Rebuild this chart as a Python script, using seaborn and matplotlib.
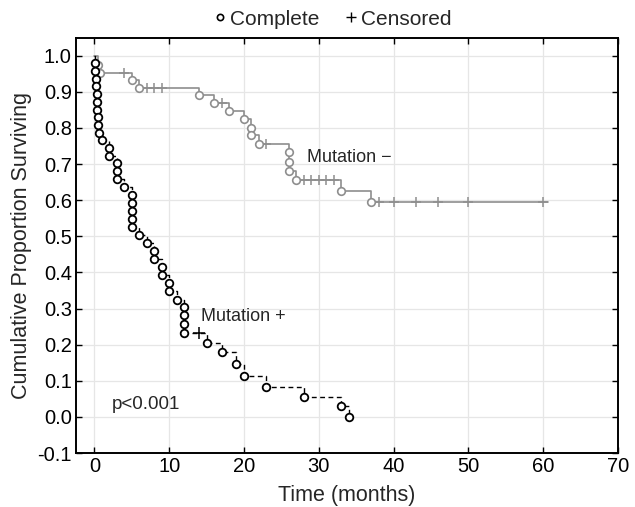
import matplotlib
matplotlib.use("Agg")
import matplotlib.pyplot as plt
from matplotlib.lines import Line2D
from matplotlib.ticker import FormatStrFormatter, MultipleLocator
import seaborn as sns
import pandas as pd

# ── Data ────────────────────────────────────────────────────────────────────
# Mutation + : complete (event) observations
pos_time = [0.1, 0.15, 0.2, 0.25, 0.3, 0.35, 0.4, 0.5, 0.55, 0.6,
            1.0, 2.0, 2.0, 3.0, 3.0, 3.0, 4.0,
            5.0, 5.0, 5.0, 5.0, 5.0, 6.0, 7.0, 8.0, 8.0, 9.0, 9.0,
            10.0, 10.0, 11.0, 12.0, 12.0, 12.0, 12.0,
            15.0, 17.0, 19.0, 20.0, 23.0, 28.0, 33.0, 34.0]
pos_surv = [0.979, 0.957, 0.936, 0.915, 0.894, 0.872, 0.851, 0.830, 0.809, 0.787,
            0.766, 0.745, 0.723, 0.702, 0.681, 0.660, 0.638,
            0.614, 0.592, 0.570, 0.548, 0.526, 0.505, 0.482, 0.459, 0.438, 0.415, 0.394,
            0.371, 0.350, 0.325, 0.304, 0.281, 0.256, 0.232,
            0.204, 0.179, 0.146, 0.114, 0.083, 0.056, 0.030, 0.0]
pos_cens_time = [14.0]
pos_cens_surv = [0.232]

# Mutation - : complete observations
neg_time = [0.5, 0.8, 5.0, 6.0, 14.0, 16.0, 18.0, 20.0, 21.0, 21.0, 22.0,
            26.0, 26.0, 26.0, 27.0, 33.0, 37.0]
neg_surv = [0.975, 0.953, 0.933, 0.912, 0.890, 0.870, 0.848, 0.825, 0.801, 0.780, 0.757,
            0.733, 0.705, 0.680, 0.656, 0.625, 0.594]
neg_cens_time = [4.0, 7.0, 8.0, 9.0, 17.0, 23.0, 28.0, 29.0, 30.0, 31.0, 32.0,
                 38.0, 40.0, 43.0, 46.0, 50.0, 60.0]
neg_cens_surv = [0.953, 0.912, 0.912, 0.912, 0.870, 0.757, 0.656, 0.656, 0.656, 0.656, 0.656,
                 0.594, 0.594, 0.594, 0.594, 0.594, 0.594]
neg_last_time = 60.6

X_TICKS = list(range(0, 71, 10))
GRAY = "#8e8e8e"

# step-curve tables
pos_curve = pd.DataFrame({"t": [0.0] + pos_time, "s": [1.0] + pos_surv})
neg_curve = pd.DataFrame({"t": [0.0] + neg_time + [neg_last_time],
                          "s": [1.0] + neg_surv + [neg_surv[-1]]})

sns.set_style("ticks")
plt.rcParams["font.family"] = ["Liberation Sans", "DejaVu Sans"]
plt.rcParams["axes.unicode_minus"] = False

fig = plt.figure(figsize=(6.35, 5.07), dpi=100)
ax = fig.add_axes([0.1197, 0.1065, 0.8535, 0.8191])

# Mutation - (gray, solid)
sns.lineplot(data=neg_curve, x="t", y="s", estimator=None, sort=False,
             drawstyle="steps-post", color=GRAY, linewidth=1.2, ax=ax, zorder=2)
sns.scatterplot(x=neg_cens_time, y=neg_cens_surv, marker="+", s=55, color=GRAY,
                linewidth=1.1, ax=ax, zorder=3)
sns.scatterplot(x=neg_time, y=neg_surv, marker="o", s=30, color="white",
                edgecolor=GRAY, linewidth=1.2, ax=ax, zorder=4)

# Mutation + (black, dashed)
sns.lineplot(data=pos_curve, x="t", y="s", estimator=None, sort=False,
             drawstyle="steps-post", color="black", linewidth=1.0,
             linestyle=(0, (3.5, 2.5)), ax=ax, zorder=5)
sns.scatterplot(x=pos_cens_time, y=pos_cens_surv, marker="+", s=70, color="black",
                linewidth=1.1, ax=ax, zorder=6)
sns.scatterplot(x=pos_time, y=pos_surv, marker="o", s=30, color="white",
                edgecolor="black", linewidth=1.3, ax=ax, zorder=7)

ax.text(28.4, 0.717, "Mutation \u2212", fontsize=13, va="center", ha="left")
ax.text(14.2, 0.279, "Mutation +", fontsize=13, va="center", ha="left")
ax.text(2.4, 0.033, "p<0.001", fontsize=13.5, va="center", ha="left")

ax.set_xlim(-2.45, 70)
ax.set_ylim(-0.1, 1.05)
ax.set_xticks(X_TICKS)
ax.yaxis.set_major_locator(MultipleLocator(0.1))
ax.yaxis.set_major_formatter(FormatStrFormatter("%.1f"))
ax.grid(True, color="#e6e6e6", linewidth=0.9)
ax.set_axisbelow(True)
for sp in ax.spines.values():
    sp.set_color("black")
    sp.set_linewidth(1.4)
ax.tick_params(direction="in", top=True, right=True, length=4, width=1,
               labelsize=14.5, pad=3, colors="black")

ax.set_xlabel("Time (months)", fontsize=15.5, labelpad=6)
ax.set_ylabel("Cumulative Proportion Surviving", fontsize=15.5, labelpad=4)

handles = [
    Line2D([], [], marker="o", ls="none", mfc="white", mec="black",
           markersize=4.5, mew=1.2),
    Line2D([], [], marker="+", ls="none", color="black", markersize=7, mew=1.0),
]
fig.legend(handles, ["Complete", "Censored"], loc="center",
           bbox_to_anchor=(0.522, 0.9625), ncol=2, frameon=False, fontsize=15,
           handletextpad=0.1, columnspacing=1.1, handlelength=0.8)

fig.savefig("out.png", dpi=100)
